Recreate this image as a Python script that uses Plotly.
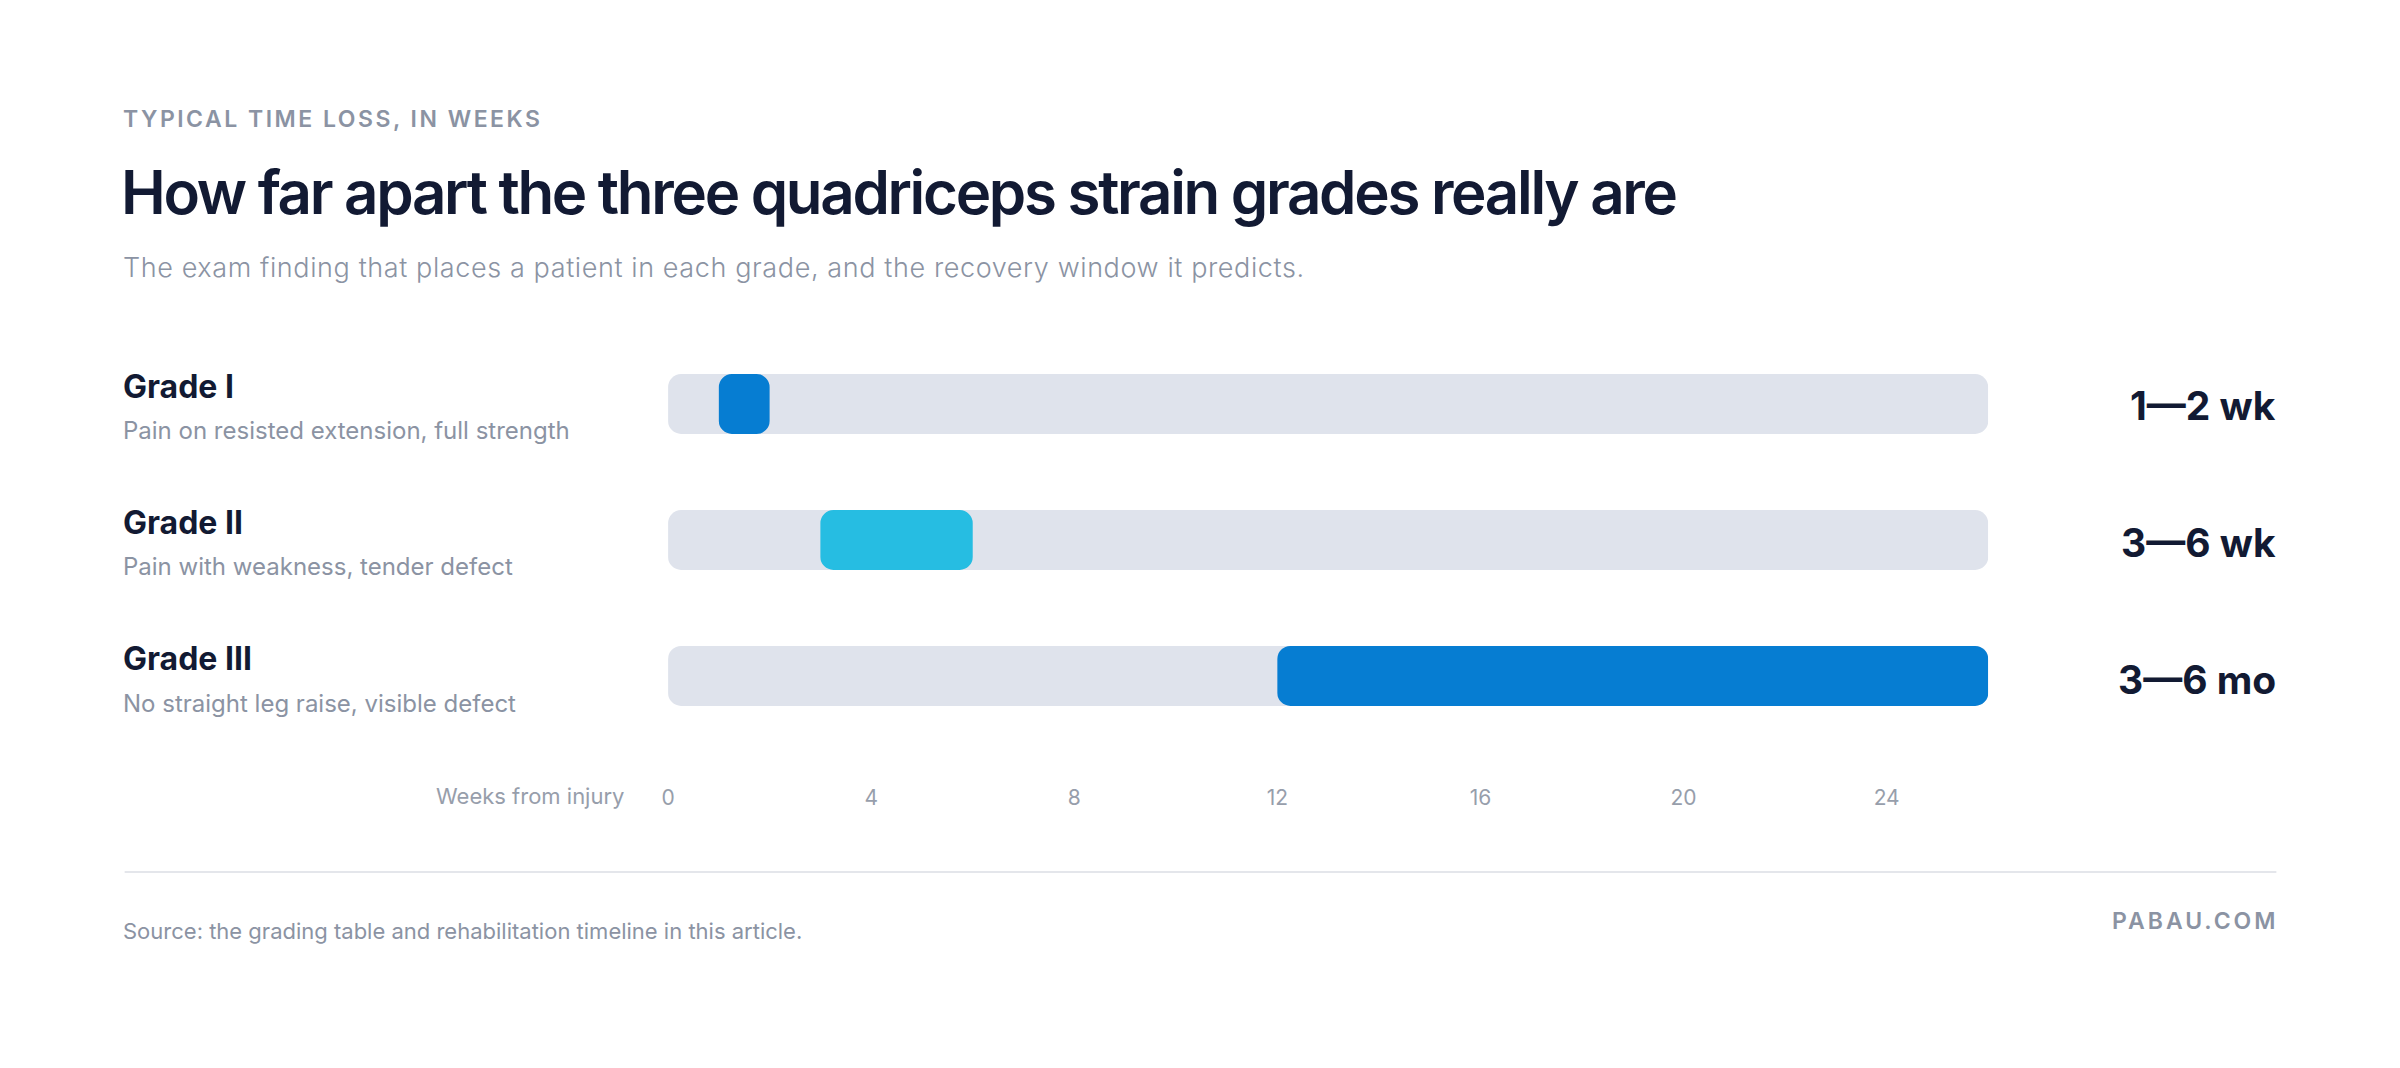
import plotly.graph_objects as go

# ---- data ----
grades = ["Grade I", "Grade II", "Grade III"]
findings = [
    "Pain on resisted extension, full strength",
    "Pain with weakness, tender defect",
    "No straight leg raise, visible defect",
]
start_weeks = [1, 3, 12]
end_weeks = [2, 6, 26]
range_labels = ["1\u20142 wk", "3\u20146 wk", "3\u20146 mo"]
track_max_weeks = [26, 26, 26]
tick_weeks = [0, 4, 8, 12, 16, 20, 24]

# ---- style ----
W, H = 2400, 1068
NAVY = "#121a33"
GRAY = "#8b93a3"
TRACK = "#dfe3ec"
bar_colors = ["#067dd2", "#26bde2", "#067dd2"]
FONT = "Inter"

x0_px, x1_px = 663, 1987
ytop_px, ybot_px = 336, 783
LEFT = 114


def px(x):
    return x / W


def py(y):
    return 1 - y / H


def ls(text, spacing):
    return '<span style="letter-spacing:%spx">%s</span>' % (spacing, text)


rows = list(range(len(grades)))
durations = [e - s for s, e in zip(start_weeks, end_weeks)]

fig = go.Figure()
fig.add_trace(go.Bar(
    x=track_max_weeks, y=rows, base=0, orientation="h",
    marker=dict(color=TRACK, cornerradius=13, line=dict(width=0)),
    width=0.44, hoverinfo="skip", showlegend=False,
))
fig.add_trace(go.Bar(
    x=durations, y=rows, base=start_weeks, orientation="h",
    marker=dict(color=bar_colors, cornerradius=13, line=dict(width=0)),
    width=0.44, hoverinfo="skip", showlegend=False,
))

ann = []
# header
ann.append(dict(text=ls("TYPICAL TIME LOSS, IN WEEKS", 2.5), x=px(LEFT), y=py(119),
                xanchor="left", yanchor="middle",
                font=dict(family=FONT, size=23, color=GRAY, weight=600)))
ann.append(dict(text=ls("How far apart the three quadriceps strain grades really are", -2.3),
                x=px(LEFT - 2), y=py(192), xanchor="left", yanchor="middle",
                font=dict(family=FONT, size=60, color=NAVY, weight=600)))
ann.append(dict(text=ls("The exam finding that places a patient in each grade, and the recovery window it predicts.", 0.6),
                x=px(LEFT), y=py(268), xanchor="left", yanchor="middle",
                font=dict(family=FONT, size=27, color=GRAY, weight=300)))

grade_y = [386, 522, 658]
find_y = [430, 566, 703]
lab_y = [406, 542, 679]
for i in rows:
    ann.append(dict(text=grades[i], x=px(LEFT), y=py(grade_y[i]), xanchor="left",
                    yanchor="middle", font=dict(family=FONT, size=32, color=NAVY, weight=700)))
    ann.append(dict(text=findings[i], x=px(LEFT), y=py(find_y[i]), xanchor="left",
                    yanchor="middle", font=dict(family=FONT, size=24, color=GRAY, weight=400)))
    ann.append(dict(text=range_labels[i], x=px(2278), y=py(lab_y[i]), xanchor="right",
                    yanchor="middle", font=dict(family=FONT, size=39, color=NAVY, weight=700)))

ann.append(dict(text="Weeks from injury", x=px(621), y=py(796), xanchor="right",
                yanchor="middle", font=dict(family=FONT, size=22, color="#979eab", weight=400)))
ann.append(dict(text="Source: the grading table and rehabilitation timeline in this article.",
                x=px(LEFT), y=py(931), xanchor="left", yanchor="middle",
                font=dict(family=FONT, size=22, color=GRAY, weight=400)))
ann.append(dict(text=ls("PABAU.COM", 3), x=px(2280), y=py(921), xanchor="right",
                yanchor="middle", font=dict(family=FONT, size=23, color=GRAY, weight=600)))

for a in ann:
    a.update(xref="paper", yref="paper", showarrow=False)

fig.update_layout(
    width=W, height=H,
    margin=dict(l=0, r=0, t=0, b=0),
    paper_bgcolor="white", plot_bgcolor="white",
    barmode="overlay",
    annotations=ann,
    shapes=[dict(type="line", xref="paper", yref="paper",
                 x0=px(118), x1=px(2276), y0=py(872), y1=py(872),
                 line=dict(color="#e4e6eb", width=2))],
    xaxis=dict(domain=[px(x0_px), px(x1_px)], range=[0, 26],
               tickvals=tick_weeks, ticktext=[str(t) for t in tick_weeks],
               showgrid=False, zeroline=False, showline=False, ticks="",
               tickfont=dict(family=FONT, size=21, color="#979eab"),
               fixedrange=True),
    yaxis=dict(domain=[py(ybot_px), py(ytop_px)], range=[2.787, -0.5],
               showgrid=False, zeroline=False, showline=False,
               showticklabels=False, ticks="", fixedrange=True),
    font=dict(family=FONT),
)

fig.write_html("out.html", config={"displayModeBar": False},
               post_script="document.body.style.margin='0';document.body.style.overflow='hidden';")
